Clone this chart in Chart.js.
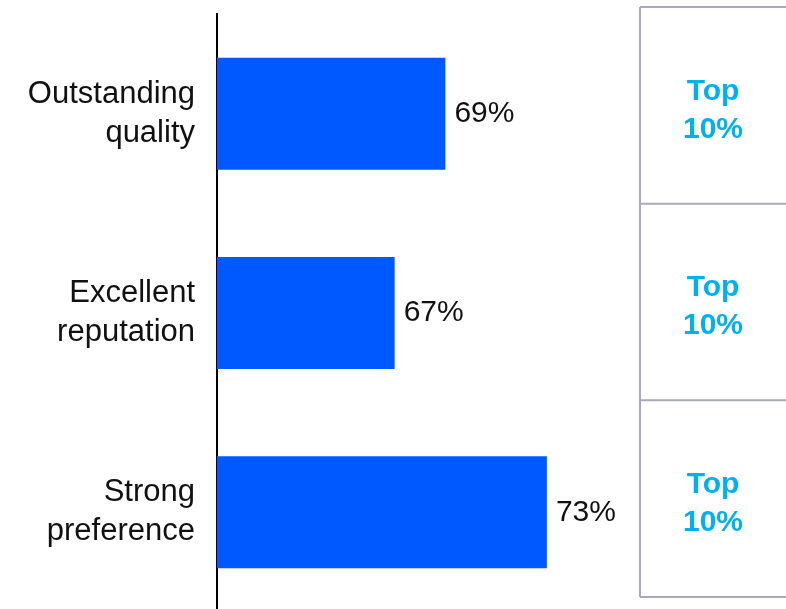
<!DOCTYPE html>
<html>
<head>
<meta charset="utf-8">
<script src="https://cdn.jsdelivr.net/npm/chart.js@4/dist/chart.umd.min.js"></script>
<style>
  html, body { margin: 0; padding: 0; background: #fff; overflow: hidden; }
  #wrap { width: 786px; height: 609px; overflow: hidden; }
</style>
</head>
<body>
<div id="wrap"><canvas id="myChart" width="786" height="612"></canvas></div>
<script>
const categories = [
  ["Outstanding", "quality"],
  ["Excellent", "reputation"],
  ["Strong", "preference"],
];
const values = [69, 67, 73];
const rankLabels = [
  ["Top", "10%"],
  ["Top", "10%"],
  ["Top", "10%"],
];

const fontFamily = "'Liberation Sans', Arial, Helvetica, sans-serif";

// value labels next to the bars + the "Top 10%" boxes on the right
const sidePlugin = {
  id: "sidePlugin",
  afterDatasetsDraw(chart) {
    const ctx = chart.ctx;
    const meta = chart.getDatasetMeta(0);
    ctx.save();
    ctx.font = "30px " + fontFamily;
    ctx.fillStyle = "#111";
    ctx.textAlign = "left";
    ctx.textBaseline = "middle";
    meta.data.forEach((bar, i) => {
      ctx.fillText(values[i] + "%", bar.x + 9, bar.y);
    });

    // table of boxes
    const left = 640, right = 786, top = 7, bottom = 597;
    const rowH = (bottom - top) / rankLabels.length;
    ctx.strokeStyle = "#a7aab9";
    ctx.lineWidth = 2;
    ctx.beginPath();
    ctx.moveTo(left, top);
    ctx.lineTo(left, bottom);
    for (let i = 0; i <= rankLabels.length; i += 1) {
      const y = top + rowH * i;
      ctx.moveTo(left, y);
      ctx.lineTo(right, y);
    }
    ctx.stroke();

    ctx.font = "bold 30px " + fontFamily;
    ctx.fillStyle = "#00b0f0";
    ctx.textAlign = "center";
    rankLabels.forEach((lines, i) => {
      const cy = top + rowH * (i + 0.5) + 5;
      ctx.fillText(lines[0], (left + right) / 2, cy - 19);
      ctx.fillText(lines[1], (left + right) / 2, cy + 19);
    });
    ctx.restore();
  },
};

new Chart("myChart", {
  type: "bar",
  data: {
    labels: categories,
    datasets: [
      {
        data: values,
        backgroundColor: "#0059ff",
        borderWidth: 0,
        categoryPercentage: 1,
        barPercentage: 0.562,
      },
    ],
  },
  options: {
    indexAxis: "y",
    responsive: false,
    devicePixelRatio: 1,
    animation: false,
    layout: { padding: { top: 14, bottom: 0, left: 0, right: 163 } },
    plugins: {
      legend: { display: false },
      tooltip: { enabled: false },
    },
    scales: {
      x: {
        display: false,
        min: 60,
        max: 76,
      },
      y: {
        grid: { display: false, drawTicks: false },
        border: { display: true, color: "#000", width: 2 },
        ticks: {
          color: "#111",
          padding: 22,
          font: { family: fontFamily, size: 31, lineHeight: 1.26 },
        },
        afterFit(scale) {
          scale.width = 217;
          scale.paddingTop = 0;
          scale.paddingBottom = 0;
        },
      },
    },
  },
  plugins: [sidePlugin],
});
</script>
</body>
</html>
